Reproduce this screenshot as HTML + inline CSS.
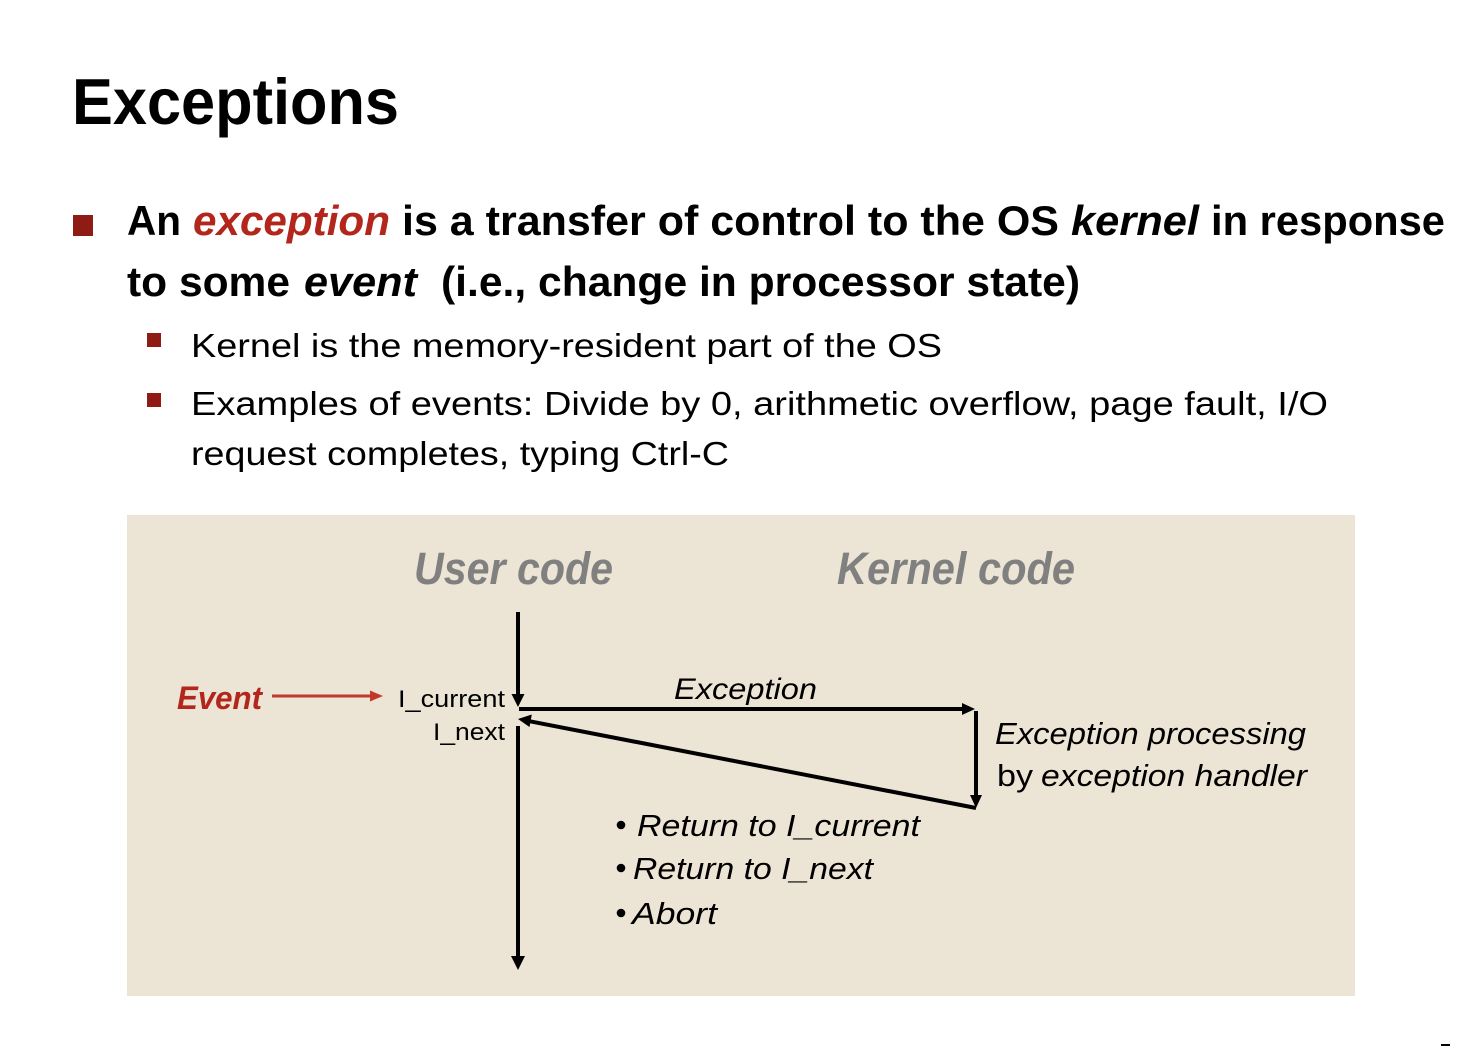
<!DOCTYPE html>
<html>
<head>
<meta charset="utf-8">
<style>
html,body{margin:0;padding:0;background:#fff;}
svg{display:block;}
text{font-family:"Liberation Sans",sans-serif;}
</style>
</head>
<body>
<svg width="1470" height="1046" viewBox="0 0 1470 1046" xmlns="http://www.w3.org/2000/svg">
  <rect x="0" y="0" width="1470" height="1046" fill="#ffffff"/>

  <!-- Title -->
  <text x="72" y="124" font-size="65" font-weight="bold" fill="#000" textLength="327" lengthAdjust="spacingAndGlyphs">Exceptions</text>

  <!-- Main bullet -->
  <rect x="73" y="215" width="20" height="21" fill="#8e1b14"/>
  <text x="127" y="235" font-size="42" font-weight="bold" fill="#000" textLength="54" lengthAdjust="spacingAndGlyphs">An</text>
  <text x="193" y="235" font-size="42" font-weight="bold" font-style="italic" fill="#b3261c" textLength="197" lengthAdjust="spacingAndGlyphs">exception</text>
  <text x="402" y="235" font-size="42" font-weight="bold" fill="#000" textLength="657" lengthAdjust="spacingAndGlyphs">is a transfer of control to the OS</text>
  <text x="1071" y="235" font-size="42" font-weight="bold" font-style="italic" fill="#000" textLength="128" lengthAdjust="spacingAndGlyphs">kernel</text>
  <text x="1211" y="235" font-size="42" font-weight="bold" fill="#000" textLength="234" lengthAdjust="spacingAndGlyphs">in response</text>

  <text x="127" y="296" font-size="42" font-weight="bold" fill="#000" textLength="163" lengthAdjust="spacingAndGlyphs">to some</text>
  <text x="304" y="296" font-size="42" font-weight="bold" font-style="italic" fill="#000" textLength="113" lengthAdjust="spacingAndGlyphs">event</text>
  <text x="441" y="296" font-size="42" font-weight="bold" fill="#000" textLength="639" lengthAdjust="spacingAndGlyphs">(i.e., change in processor state)</text>

  <!-- Sub bullets -->
  <rect x="147" y="333" width="14" height="14" fill="#8e1b14"/>
  <text x="191" y="357" font-size="33" fill="#000" textLength="751" lengthAdjust="spacingAndGlyphs">Kernel is the memory-resident part of the OS</text>
  <rect x="147" y="393" width="14" height="14" fill="#8e1b14"/>
  <text x="191" y="415" font-size="33" fill="#000" textLength="1137" lengthAdjust="spacingAndGlyphs">Examples of events: Divide by 0, arithmetic overflow, page fault, I/O</text>
  <text x="191" y="465" font-size="33" fill="#000" textLength="538" lengthAdjust="spacingAndGlyphs">request completes, typing Ctrl-C</text>

  <!-- Diagram background -->
  <rect x="127" y="515" width="1228" height="481" fill="#ece4d4"/>

  <text x="414" y="584" font-size="45" font-weight="bold" font-style="italic" fill="#808080" textLength="199" lengthAdjust="spacingAndGlyphs">User code</text>
  <text x="837" y="584" font-size="45" font-weight="bold" font-style="italic" fill="#808080" textLength="238" lengthAdjust="spacingAndGlyphs">Kernel code</text>

  <!-- Event -->
  <text x="177" y="709" font-size="32" font-weight="bold" font-style="italic" fill="#b3261c" textLength="85" lengthAdjust="spacingAndGlyphs">Event</text>
  <line x1="272" y1="696" x2="372" y2="696" stroke="#c0392b" stroke-width="3"/>
  <polygon points="383,696 370,690.5 370,701.5" fill="#c0392b"/>

  <text x="398" y="707" font-size="24" fill="#000" textLength="107" lengthAdjust="spacingAndGlyphs">I_current</text>
  <text x="433" y="740" font-size="24" fill="#000" textLength="72" lengthAdjust="spacingAndGlyphs">I_next</text>

  <!-- Top vertical arrow -->
  <line x1="518" y1="612" x2="518" y2="696" stroke="#000" stroke-width="4"/>
  <polygon points="518,707 511.5,694 524.5,694" fill="#000"/>

  <!-- Exception horizontal arrow -->
  <line x1="519" y1="709" x2="963" y2="709" stroke="#000" stroke-width="4"/>
  <polygon points="975,709 962,703 962,715" fill="#000"/>
  <text x="674" y="699" font-size="30" font-style="italic" fill="#000" textLength="143" lengthAdjust="spacingAndGlyphs">Exception</text>

  <!-- Right vertical arrow -->
  <line x1="976" y1="711" x2="976" y2="796" stroke="#000" stroke-width="4"/>
  <polygon points="976,808 970,795 982,795" fill="#000"/>

  <!-- Return diagonal arrow -->
  <line x1="976" y1="808" x2="530" y2="721.3" stroke="#000" stroke-width="4"/>
  <polygon points="518,719 531.8,714.5 529.5,727" fill="#000"/>

  <!-- Lower vertical arrow -->
  <line x1="518" y1="726" x2="518" y2="958" stroke="#000" stroke-width="4"/>
  <polygon points="518,970 511,956 525,956" fill="#000"/>

  <!-- Exception processing -->
  <text x="995" y="744" font-size="31" font-style="italic" fill="#000" textLength="311" lengthAdjust="spacingAndGlyphs">Exception processing</text>
  <text x="997" y="786" font-size="31" fill="#000" textLength="36" lengthAdjust="spacingAndGlyphs">by</text>
  <text x="1041" y="786" font-size="31" font-style="italic" fill="#000" textLength="266" lengthAdjust="spacingAndGlyphs">exception handler</text>

  <!-- Return options -->
  <circle cx="621" cy="825" r="4.3" fill="#000"/>
  <text x="637" y="836" font-size="31" font-style="italic" fill="#000" textLength="283" lengthAdjust="spacingAndGlyphs">Return to I_current</text>
  <circle cx="621" cy="868" r="4.3" fill="#000"/>
  <text x="633" y="879" font-size="31" font-style="italic" fill="#000" textLength="240" lengthAdjust="spacingAndGlyphs">Return to I_next</text>
  <circle cx="621" cy="913" r="4.3" fill="#000"/>
  <text x="632" y="924" font-size="31" font-style="italic" fill="#000" textLength="85" lengthAdjust="spacingAndGlyphs">Abort</text>

  <!-- small mark bottom right -->
  <rect x="1441" y="1044" width="9" height="2" fill="#000"/>
</svg>
</body>
</html>
